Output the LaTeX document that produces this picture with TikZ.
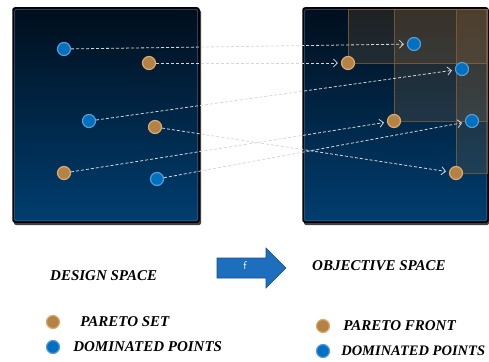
\documentclass[tikz,border=0pt]{standalone}
\usepackage{fontspec}
\setmainfont{Liberation Serif}
\usetikzlibrary{arrows.meta,positioning}
\definecolor{paneltop}{RGB}{1,14,28}
\definecolor{panelbot}{RGB}{0,62,112}
\definecolor{dotblue}{RGB}{0,112,192}
\definecolor{ringblue}{RGB}{91,155,213}
\definecolor{dotbrown}{RGB}{181,130,70}
\definecolor{ringbrown}{RGB}{218,170,110}
\definecolor{arrowblue}{RGB}{30,110,190}
\definecolor{linegrey}{RGB}{215,215,215}

\begin{document}
\begin{tikzpicture}[x=1pt,y=-1pt,
  pset/.style={circle,fill=dotbrown,draw=ringbrown,line width=1.2pt,minimum size=13pt,inner sep=0pt},
  dpt/.style={circle,fill=dotblue,draw=ringblue,line width=1.2pt,minimum size=13pt,inner sep=0pt},
  maplink/.style={draw=linegrey,densely dashed,line width=0.8pt,-{Straight Barb[length=4pt,width=8pt]},shorten >=3pt},
  spacetext/.style={font=\bfseries\itshape\fontsize{15}{15}\selectfont,anchor=west,inner sep=0pt},
  front/.style={fill=dotbrown,fill opacity=0.17,draw=dotbrown!75!black,draw opacity=0.75,line width=0.7pt},
  panel/.style={draw=black,line width=1.5pt,rounded corners=2pt,top color=paneltop,bottom color=panelbot}
]
\useasboundingbox (0,0) rectangle (489,361);

% design space
\fill[black!75,rounded corners=2pt] (14,10) rectangle (201,225);
\path[panel] (13,8) rectangle (199,222);
\draw[ringblue!60!black,line width=0.5pt,rounded corners=1.5pt] (14.5,9.5) rectangle (197.5,220.5);

% objective space
\fill[black!75,rounded corners=2pt] (304,10) rectangle (489,225);
\path[panel] (303,8) rectangle (488,222);
\draw[ringblue!60!black,line width=0.5pt,rounded corners=1.5pt] (304.5,9.5) rectangle (486.5,220.5);

% dominated regions
\path[front] (348,63) rectangle (487,9);
\path[front] (394,121) rectangle (487,9);
\path[front] (456,173) rectangle (487,9);

% points in design space
\node[dpt] (s1) at (64,49) {};
\node[pset] (s2) at (149,63) {};
\node[dpt] (s3) at (89,121) {};
\node[pset] (s4) at (155,127) {};
\node[pset] (s5) at (64,173) {};
\node[dpt] (s6) at (157,179) {};

% points in objective space
\node[dpt] (o1) at (414,44) {};
\node[pset] (o2) at (348,63) {};
\node[dpt] (o3) at (462,69) {};
\node[pset] (o4) at (456,173) {};
\node[pset] (o5) at (394,121) {};
\node[dpt] (o6) at (472,121) {};

% mapping
\foreach \i in {1,...,6}
  \draw[maplink] (s\i) -- (o\i);

% map arrow
\fill[arrowblue,draw=arrowblue!70!black,line width=0.6pt] (217,258) -- (266,258) -- (266,248) -- (286,268)
  -- (266,288) -- (266,278) -- (217,278) -- cycle;
\node[text=white,font=\sffamily\fontsize{11}{11}\selectfont,inner sep=0pt] (fmap) at (245,266) {f};

% titles
\node[spacetext] (dslabel) at (50,276) {DESIGN SPACE};
\node[spacetext] (oslabel) at (312,266) {OBJECTIVE SPACE};

% legends
\node[pset] (lset) at (53,322) {};
\node[spacetext,right=20pt of lset] (lsettext) {PARETO SET};
\node[dpt] (ldom) at (53,347) {};
\node[spacetext,right=13pt of ldom] (ldomtext) {DOMINATED POINTS};
\node[pset] (rfront) at (323,326) {};
\node[spacetext,right=13pt of rfront] (rfronttext) {PARETO FRONT};
\node[dpt] (rdom) at (323,351) {};
\node[spacetext,right=11pt of rdom,font=\bfseries\itshape\fontsize{14.5}{14.5}\selectfont] (rdomtext) {DOMINATED POINTS};
\end{tikzpicture}
\end{document}
